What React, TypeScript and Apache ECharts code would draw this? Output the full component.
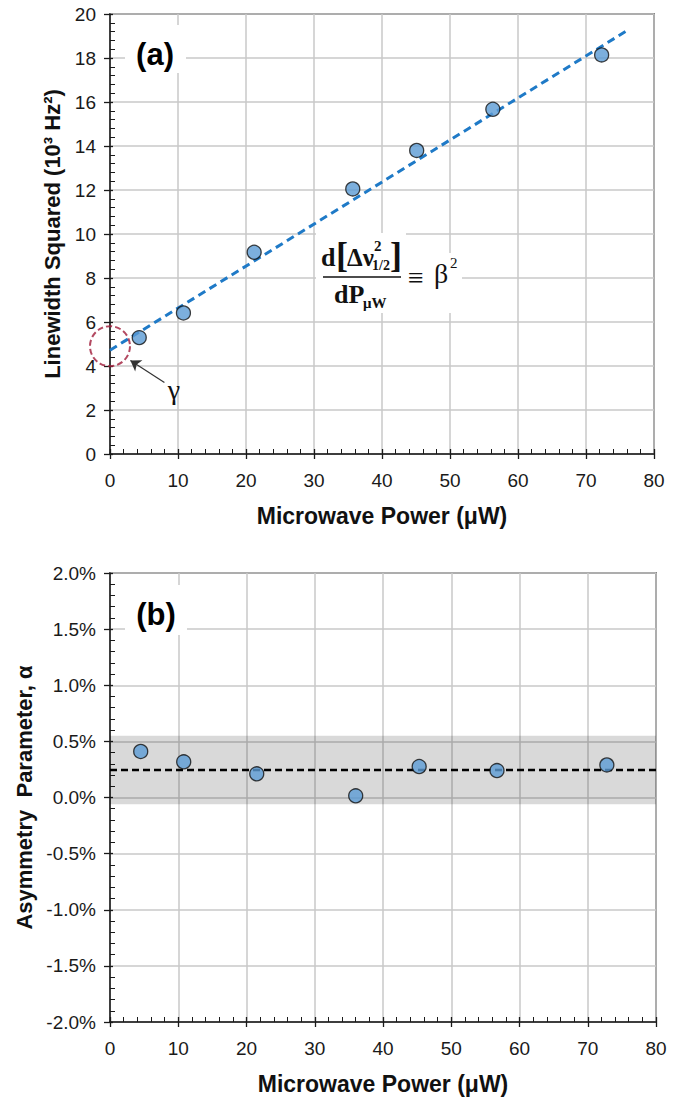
import React, { useEffect, useRef } from "react";
import * as echarts from "echarts";

// ---------- data ----------
const powerA = [4.3, 10.8, 21.2, 35.7, 45.1, 56.3, 72.3];
const linewidthSq = [5.29, 6.41, 9.17, 12.05, 13.8, 15.67, 18.14];
const fitX = [0, 76];
const fitY = [4.72, 19.24];
const gammaPoint = [0, 4.9];
const gammaArrowFrom = [8.0, 3.25];
const gammaArrowTo = [3.0, 4.25];

const powerB = [4.5, 10.8, 21.5, 36.0, 45.3, 56.7, 72.8];
const asymmetry = [0.41, 0.318, 0.211, 0.015, 0.276, 0.24, 0.29];
const alphaMean = 0.245;
const bandLow = -0.06;
const bandHigh = 0.55;

const xMin = 0, xMax = 80, xInterval = 10;
const yAMin = 0, yAMax = 20, yAInterval = 2;
const yBMin = -2, yBMax = 2, yBInterval = 0.5;

const xName = "Microwave Power (\u03bcW)";
const yAName = "Linewidth Squared (10\u00b3 Hz\u00b2)";
const yBName = "Asymmetry  Parameter, \u03b1";

// ---------- styles ----------
const SANS = "'Liberation Sans', Arial, Helvetica, sans-serif";
const SERIF = "'Liberation Serif', 'Times New Roman', serif";
const AXIS_COLOR = "#1a1a1a";
const GRID_COLOR = "#c8c8c8";
const MARKER_FILL = "#5b9bd5";

function mainXAxis(gridIndex: number) {
  return {
    type: "value",
    gridIndex,
    position: "bottom",
    min: xMin,
    max: xMax,
    interval: xInterval,
    name: xName,
    nameLocation: "middle",
    nameGap: 50,
    nameTextStyle: { fontFamily: SANS, fontWeight: "bold", fontSize: 23, color: "#111" },
    axisLine: { show: true, onZero: false, lineStyle: { color: AXIS_COLOR, width: 1.5 } },
    axisTick: { show: true, inside: false, length: 5, lineStyle: { color: AXIS_COLOR, width: 1.3 } },
    axisLabel: { fontFamily: SANS, fontSize: 19, color: "#1a1a1a", margin: 17 },
    splitLine: { show: true, lineStyle: { color: GRID_COLOR, width: 1.5 } },
  };
}
function overlayXAxis(gridIndex: number) {
  return {
    type: "value",
    gridIndex,
    position: "bottom",
    min: xMin,
    max: xMax,
    interval: xInterval,
    axisLine: { show: false, onZero: false },
    axisTick: { show: true, inside: true, length: 5, lineStyle: { color: AXIS_COLOR, width: 1.3 } },
    minorTick: { show: true, splitNumber: 5, length: 5, lineStyle: { color: AXIS_COLOR, width: 1 } },
    axisLabel: { show: false },
    splitLine: { show: false },
  };
}
function mainYAxis(gridIndex: number, min: number, max: number, interval: number, name: string, nameGap: number, fmt: (v: number) => string) {
  return {
    type: "value",
    gridIndex,
    position: "left",
    min,
    max,
    interval,
    name,
    nameLocation: "middle",
    nameGap,
    nameRotate: 90,
    nameTextStyle: { fontFamily: SANS, fontWeight: "bold", fontSize: 22, color: "#111" },
    axisLine: { show: true, onZero: false, lineStyle: { color: AXIS_COLOR, width: 1.5 } },
    axisTick: { show: true, inside: false, length: 6, lineStyle: { color: AXIS_COLOR, width: 1.3 } },
    axisLabel: { fontFamily: SANS, fontSize: 19, color: "#1a1a1a", margin: 14, formatter: fmt },
    splitLine: { show: true, lineStyle: { color: GRID_COLOR, width: 1.5 } },
  };
}
function overlayYAxis(gridIndex: number, min: number, max: number, interval: number) {
  return {
    type: "value",
    gridIndex,
    position: "left",
    min,
    max,
    interval,
    axisLine: { show: false, onZero: false },
    axisTick: { show: true, inside: true, length: 3, lineStyle: { color: AXIS_COLOR, width: 1.3 } },
    minorTick: { show: true, splitNumber: 5, length: 5, lineStyle: { color: AXIS_COLOR, width: 1 } },
    axisLabel: { show: false },
    splitLine: { show: false },
  };
}

function labelBox(x: number, y: number, w: number, h: number, text: string, cx: number, cy: number) {
  return [
    { type: "rect", z: 10, shape: { x, y, width: w, height: h }, style: { fill: "#ffffff" } },
    {
      type: "text",
      z: 11,
      x: cx,
      y: cy,
      style: { text, font: `bold 31px ${SANS}`, fill: "#000", align: "center", verticalAlign: "middle" },
    },
  ];
}

function serifText(text: string, x: number, y: number, size: number, bold = true) {
  return {
    type: "text",
    z: 11,
    x,
    y,
    style: {
      text,
      font: `${bold ? "bold " : ""}${size}px ${SERIF}`,
      fill: "#111",
      align: "left",
      verticalAlign: "middle",
    },
  };
}

export default function App() {
  const ref = useRef<HTMLDivElement>(null);

  useEffect(() => {
    document.body.style.margin = "0";
    if (!ref.current) return;
    const chart = echarts.init(ref.current, undefined, { renderer: "svg" });

    const scatterA = powerA.map((x, i) => [x, linewidthSq[i]]);
    const scatterB = powerB.map((x, i) => [x, asymmetry[i]]);
    const fitData = fitX.map((x, i) => [x, fitY[i]]);

    const option: any = {
      animation: false,
      backgroundColor: "#ffffff",
      grid: [
        { left: 110, right: 28, top: 14, height: 440, show: true, borderColor: "#2a2a2a", borderWidth: 1.5, backgroundColor: "transparent" },
        { left: 110, right: 26, top: 573, height: 449, show: true, borderColor: "#2a2a2a", borderWidth: 1.5, backgroundColor: "transparent" },
      ],
      xAxis: [mainXAxis(0), overlayXAxis(0), mainXAxis(1), overlayXAxis(1)],
      yAxis: [
        mainYAxis(0, yAMin, yAMax, yAInterval, yAName, 47, (v: number) => `${v}`),
        overlayYAxis(0, yAMin, yAMax, yAInterval),
        mainYAxis(1, yBMin, yBMax, yBInterval, yBName, 72, (v: number) => `${v.toFixed(1)}%`),
        overlayYAxis(1, yBMin, yBMax, yBInterval),
      ],
      series: [
        {
          type: "line",
          name: "fit",
          xAxisIndex: 0,
          yAxisIndex: 0,
          data: fitData,
          showSymbol: false,
          symbol: "none",
          lineStyle: { color: "#1f7ac7", width: 3, type: [8, 5] },
          z: 3,
        },
        {
          type: "scatter",
          name: "gamma",
          xAxisIndex: 0,
          yAxisIndex: 0,
          data: [gammaPoint],
          symbol: "circle",
          symbolSize: 40,
          clip: false,
          itemStyle: { color: "rgba(0,0,0,0)", borderColor: "#a01c3a", borderWidth: 2, borderType: [6, 3] },
          z: 4,
          markLine: {
            silent: true,
            symbol: ["none", "arrow"],
            symbolSize: 10,
            label: { show: false },
            lineStyle: { color: "#333", width: 1.2, type: "solid" },
            data: [[{ coord: gammaArrowFrom }, { coord: gammaArrowTo }]],
          },
        },
        {
          type: "scatter",
          name: "linewidth",
          xAxisIndex: 0,
          yAxisIndex: 0,
          data: scatterA,
          symbol: "circle",
          symbolSize: 14,
          itemStyle: { color: MARKER_FILL, borderColor: "#111", borderWidth: 1.3 },
          z: 5,
        },
        {
          type: "line",
          name: "mean",
          xAxisIndex: 2,
          yAxisIndex: 2,
          data: [[xMin, alphaMean], [xMax, alphaMean]],
          showSymbol: false,
          symbol: "none",
          lineStyle: { color: "#000", width: 2.5, type: [7, 4] },
          z: 3,
          markArea: {
            silent: true,
            itemStyle: { color: "rgba(0,0,0,0.15)" },
            data: [[{ yAxis: bandLow }, { yAxis: bandHigh }]],
          },
        },
        {
          type: "scatter",
          name: "asymmetry",
          xAxisIndex: 2,
          yAxisIndex: 2,
          data: scatterB,
          symbol: "circle",
          symbolSize: 14,
          itemStyle: { color: MARKER_FILL, borderColor: "#111", borderWidth: 1.3 },
          z: 5,
        },
      ],
      graphic: [
        ...labelBox(125, 25, 61, 48, "(a)", 155, 54),
        ...labelBox(125, 585, 62, 50, "(b)", 156, 614),
        // gamma label
        { type: "text", z: 11, x: 174, y: 389, style: { text: "\u03b3", font: `28px ${SERIF}`, fill: "#111", align: "center", verticalAlign: "middle" } },
        // formula background
        { type: "rect", z: 10, shape: { x: 316, y: 233, width: 90, height: 80 }, style: { fill: "#fff" } },
        { type: "rect", z: 10, shape: { x: 405, y: 253, width: 57, height: 60 }, style: { fill: "#fff" } },
        serifText("d", 321, 257, 26),
        serifText("[", 336, 255, 36),
        serifText("\u0394\u03bd", 347, 257, 25),
        serifText("2", 374, 246, 15),
        serifText("1/2", 372, 265, 14),
        serifText("]", 390, 255, 36),
        { type: "line", z: 11, shape: { x1: 323, y1: 277, x2: 401, y2: 277 }, style: { stroke: "#111", lineWidth: 1.5 } },
        serifText("dP", 334, 294, 26),
        serifText("\u03bcW", 363, 303, 15),
        serifText("\u2261", 408, 277, 28, false),
        serifText("\u03b2", 434, 273, 28, false),
        serifText("2", 450, 263, 15, false),
      ],
    };

    chart.setOption(option);
    return () => chart.dispose();
  }, []);

  return <div ref={ref} style={{ width: 682, height: 1098 }} />;
}
